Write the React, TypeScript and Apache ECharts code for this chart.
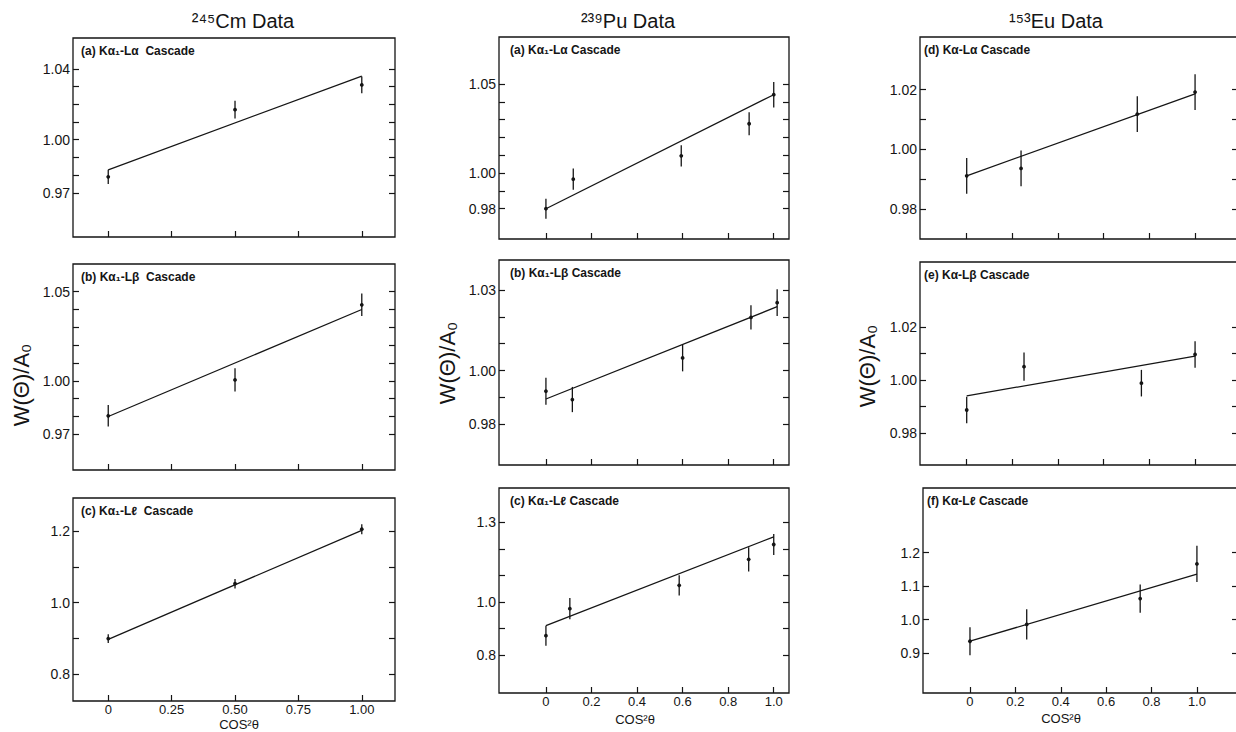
import React, { useEffect, useRef } from "react";
import * as echarts from "echarts";

// ---------- data ----------
const cmX = [0, 0.5, 1.0];
const cmAY = [0.979, 1.017, 1.031];
const cmAErr = [0.004, 0.005, 0.0047];
const cmAFit = [0.983, 1.036];
const cmBY = [0.9804, 1.0005, 1.0426];
const cmBErr = [0.006, 0.0065, 0.0063];
const cmBFit = [0.98, 1.04];
const cmCY = [0.9, 1.053, 1.205];
const cmCErr = [0.012, 0.013, 0.014];
const cmCFit = [0.898, 1.202];

const puAX = [0, 0.12, 0.594, 0.892, 1.0];
const puAY = [0.98, 0.9966, 1.0097, 1.0277, 1.044];
const puAErr = [0.0056, 0.006, 0.006, 0.0064, 0.0072];
const puAFit = [0.98, 1.044];
const puBX = [0, 0.116, 0.6, 0.9, 1.015];
const puBY = [0.9923, 0.9892, 1.0047, 1.0198, 1.0253];
const puBErr = [0.005, 0.0047, 0.005, 0.0045, 0.005];
const puBFit = [0.9894, 1.0238];
const puCX = [0, 0.105, 0.585, 0.89, 1.0];
const puCY = [0.873, 0.975, 1.063, 1.161, 1.217];
const puCErr = [0.038, 0.04, 0.038, 0.046, 0.04];
const puCFit = [0.911, 1.246];

const euAX = [0, 0.238, 0.747, 1.0];
const euAY = [0.9911, 0.9936, 1.0118, 1.0192];
const euAErr = [0.006, 0.006, 0.006, 0.006];
const euAFit = [0.9911, 1.0186];
const euBX = [0, 0.251, 0.765, 1.0];
const euBY = [0.9887, 1.005, 0.9988, 1.0096];
const euBErr = [0.005, 0.0053, 0.005, 0.005];
const euBFit = [0.994, 1.009];
const euCX = [0, 0.25, 0.75, 1.0];
const euCY = [0.936, 0.986, 1.063, 1.166];
const euCErr = [0.042, 0.045, 0.042, 0.054];
const euCFit = [0.936, 1.136];

const fitX01 = [0, 1.0];
const fitXPuB = [0, 1.015];

// ---------- tick values / labels ----------
const cmXTicks = [0, 0.25, 0.5, 0.75, 1.0];
const cmXTickLabels = ["0", "0.25", "0.50", "0.75", "1.00"];
const fineXTicks = [0, 0.2, 0.4, 0.6, 0.8, 1.0];
const fineXTickLabels = ["0", "0.2", "0.4", "0.6", "0.8", "1.0"];

const cmAYTicks = [0.97, 0.98, 0.99, 1.0, 1.01, 1.02, 1.03, 1.04];
const cmAYLabels = [0.97, 1.0, 1.04];
const cmBYTicks = [0.97, 0.98, 0.99, 1.0, 1.01, 1.02, 1.03, 1.04, 1.05];
const cmBYLabels = [0.97, 1.0, 1.05];
const cmCYTicks = [0.8, 0.9, 1.0, 1.1, 1.2];
const cmCYLabels = [0.8, 1.0, 1.2];
const puAYTicks = [0.98, 0.99, 1.0, 1.01, 1.02, 1.03, 1.04, 1.05];
const puAYLabels = [0.98, 1.0, 1.05];
const puBYTicks = [0.98, 0.99, 1.0, 1.01, 1.02, 1.03];
const puBYLabels = [0.98, 1.0, 1.03];
const puCYTicks = [0.8, 0.9, 1.0, 1.1, 1.2, 1.3];
const puCYLabels = [0.8, 1.0, 1.3];
const euAYTicks = [0.98, 0.99, 1.0, 1.01, 1.02];
const euAYLabels = [0.98, 1.0, 1.02];
const euBYTicks = [0.98, 0.99, 1.0, 1.01, 1.02];
const euBYLabels = [0.98, 1.0, 1.02];
const euCYTicks = [0.9, 1.0, 1.1, 1.2];
const euCYLabels = [0.9, 1.0, 1.1, 1.2];

const columnTitles = ["²⁴⁵Cm Data", "²³⁹Pu Data", "¹⁵³Eu Data"];
const panelLabels = [
  "(a) Kα₁-Lα  Cascade",
  "(b) Kα₁-Lβ  Cascade",
  "(c) Kα₁-Lℓ  Cascade",
  "(a) Kα₁-Lα Cascade",
  "(b) Kα₁-Lβ Cascade",
  "(c) Kα₁-Lℓ Cascade",
  "(d) Kα-Lα Cascade",
  "(e) Kα-Lβ Cascade",
  "(f) Kα-Lℓ Cascade",
];
const yName = "W(Θ)/A₀";
const xName = "COS²θ";

// ---------- panel assembly ----------
type Panel = {
  x: number[]; y: number[]; err: number[]; fitX: number[]; fit: number[];
  yTicks: number[]; yLabels: number[]; yDec: number;
  xTicks: number[]; xLabels: string[]; showX: boolean;
  box: { left: number; top: number; width: number; height: number };
  xRange: [number, number]; yRange: [number, number];
  labelDx: number;
};

const panels: Panel[] = [
  { x: cmX, y: cmAY, err: cmAErr, fitX: fitX01, fit: cmAFit, yTicks: cmAYTicks, yLabels: cmAYLabels, yDec: 2, xTicks: cmXTicks, xLabels: cmXTickLabels, showX: false,
    box: { left: 73, top: 38, width: 322, height: 199 }, xRange: [-0.139, 1.131], yRange: [0.945, 1.0575], labelDx: 8 },
  { x: cmX, y: cmBY, err: cmBErr, fitX: fitX01, fit: cmBFit, yTicks: cmBYTicks, yLabels: cmBYLabels, yDec: 2, xTicks: cmXTicks, xLabels: cmXTickLabels, showX: false,
    box: { left: 73, top: 264, width: 322, height: 206 }, xRange: [-0.139, 1.131], yRange: [0.95, 1.0655], labelDx: 8 },
  { x: cmX, y: cmCY, err: cmCErr, fitX: fitX01, fit: cmCFit, yTicks: cmCYTicks, yLabels: cmCYLabels, yDec: 1, xTicks: cmXTicks, xLabels: cmXTickLabels, showX: true,
    box: { left: 73, top: 498, width: 322, height: 203 }, xRange: [-0.139, 1.131], yRange: [0.726, 1.292], labelDx: 8 },
  { x: puAX, y: puAY, err: puAErr, fitX: fitX01, fit: puAFit, yTicks: puAYTicks, yLabels: puAYLabels, yDec: 2, xTicks: fineXTicks, xLabels: fineXTickLabels, showX: false,
    box: { left: 499, top: 37, width: 290, height: 202 }, xRange: [-0.206, 1.067], yRange: [0.963, 1.0764], labelDx: 11 },
  { x: puBX, y: puBY, err: puBErr, fitX: fitXPuB, fit: puBFit, yTicks: puBYTicks, yLabels: puBYLabels, yDec: 2, xTicks: fineXTicks, xLabels: fineXTickLabels, showX: false,
    box: { left: 499, top: 260, width: 290, height: 205 }, xRange: [-0.206, 1.067], yRange: [0.9648, 1.0412], labelDx: 11 },
  { x: puCX, y: puCY, err: puCErr, fitX: fitX01, fit: puCFit, yTicks: puCYTicks, yLabels: puCYLabels, yDec: 1, xTicks: fineXTicks, xLabels: fineXTickLabels, showX: true,
    box: { left: 499, top: 488, width: 290, height: 205 }, xRange: [-0.206, 1.067], yRange: [0.657, 1.43], labelDx: 11 },
  { x: euAX, y: euAY, err: euAErr, fitX: fitX01, fit: euAFit, yTicks: euAYTicks, yLabels: euAYLabels, yDec: 2, xTicks: fineXTicks, xLabels: fineXTickLabels, showX: false,
    box: { left: 920, top: 37, width: 318, height: 202 }, xRange: [-0.2045, 1.188], yRange: [0.9699, 1.0377], labelDx: 4 },
  { x: euBX, y: euBY, err: euBErr, fitX: fitX01, fit: euBFit, yTicks: euBYTicks, yLabels: euBYLabels, yDec: 2, xTicks: fineXTicks, xLabels: fineXTickLabels, showX: false,
    box: { left: 920, top: 262, width: 318, height: 203 }, xRange: [-0.2045, 1.188], yRange: [0.968, 1.0444], labelDx: 4 },
  { x: euCX, y: euCY, err: euCErr, fitX: fitX01, fit: euCFit, yTicks: euCYTicks, yLabels: euCYLabels, yDec: 1, xTicks: fineXTicks, xLabels: fineXTickLabels, showX: true,
    box: { left: 923, top: 488, width: 315, height: 205 }, xRange: [-0.207, 1.181], yRange: [0.782, 1.392], labelDx: 4 },
];

const INK = "#151515";
const FONT = "'Liberation Sans', 'DejaVu Sans', sans-serif";

function buildOption() {
  const grid: any[] = [];
  const xAxis: any[] = [];
  const yAxis: any[] = [];
  const series: any[] = [];
  const graphic: any[] = [];

  panels.forEach((p, i) => {
    grid.push({
      left: p.box.left, top: p.box.top, width: p.box.width, height: p.box.height,
      show: true, borderColor: INK, borderWidth: 1.3, backgroundColor: "transparent",
    });
    xAxis.push({
      type: "value", gridIndex: i, min: p.xRange[0], max: p.xRange[1], position: "bottom",
      axisLine: { show: false, onZero: false }, splitLine: { show: false },
      axisTick: { show: true, inside: true, length: 6, customValues: p.xTicks, lineStyle: { color: INK, width: 1.2 } },
      axisLabel: {
        show: p.showX, customValues: p.xTicks, margin: 2, color: INK, fontSize: 13, fontFamily: FONT,
        formatter: (v: number) => {
          const k = p.xTicks.findIndex((t) => Math.abs(t - v) < 1e-6);
          return k >= 0 ? p.xLabels[k] : "";
        },
      },
    });
    yAxis.push({
      type: "value", gridIndex: i, min: p.yRange[0], max: p.yRange[1], position: "left",
      axisLine: { show: false, onZero: false }, splitLine: { show: false },
      axisTick: { show: true, inside: true, length: 6, customValues: p.yTicks, lineStyle: { color: INK, width: 1.2 } },
      axisLabel: {
        show: true, customValues: p.yLabels, margin: 3, color: INK, fontSize: 14, fontFamily: FONT,
        formatter: (v: number) => v.toFixed(p.yDec),
      },
    });
    yAxis.push({
      type: "value", gridIndex: i, min: p.yRange[0], max: p.yRange[1], position: "right",
      axisLine: { show: false, onZero: false }, splitLine: { show: false },
      axisTick: { show: true, inside: true, length: 6, customValues: p.yTicks, lineStyle: { color: INK, width: 1.2 } },
      axisLabel: { show: false },
    });
    series.push({
      type: "line", xAxisIndex: i, yAxisIndex: 2 * i, symbol: "none", silent: true,
      lineStyle: { color: INK, width: 1.3 },
      data: p.fitX.map((fx, j) => [fx, p.fit[j]]),
    });
    series.push({
      type: "custom", xAxisIndex: i, yAxisIndex: 2 * i, silent: true, clip: false,
      data: p.x.map((xv, j) => [xv, p.y[j], p.err[j]]),
      renderItem: (params: any, api: any) => {
        const xv = api.value(0), yv = api.value(1), e = api.value(2);
        const top = api.coord([xv, yv + e]);
        const bot = api.coord([xv, yv - e]);
        const c = api.coord([xv, yv]);
        return {
          type: "group",
          children: [
            { type: "line", shape: { x1: top[0], y1: top[1], x2: bot[0], y2: bot[1] }, style: { stroke: INK, lineWidth: 1.3 } },
            { type: "circle", shape: { cx: c[0], cy: c[1], r: 1.9 }, style: { fill: INK } },
          ],
        };
      },
    });
    graphic.push({
      type: "text", left: p.box.left + p.labelDx, top: p.box.top + 7, silent: true,
      style: { text: panelLabels[i], fill: INK, font: `bold 12px ${FONT}` },
    });
  });

  // column titles
  const titleX = [243, 628, 1056];
  columnTitles.forEach((t, k) => {
    graphic.push({
      type: "text", x: titleX[k], y: 21, silent: true,
      style: { text: t, fill: INK, font: `20px ${FONT}`, align: "center", verticalAlign: "middle" },
    });
  });
  // y axis names
  const yNamePos = [[21, 385], [447, 363], [867, 366]];
  yNamePos.forEach(([x, y]) => {
    graphic.push({
      type: "text", x, y, rotation: Math.PI / 2, silent: true,
      style: { text: yName, fill: INK, font: `22px ${FONT}`, align: "center", verticalAlign: "middle" },
    });
  });
  // x axis names
  const xNamePos = [[239, 724], [635, 719], [1061, 718]];
  xNamePos.forEach(([x, y]) => {
    graphic.push({
      type: "text", x, y, silent: true,
      style: { text: xName, fill: INK, font: `13px ${FONT}`, align: "center", verticalAlign: "middle" },
    });
  });

  return { animation: false, backgroundColor: "#ffffff", grid, xAxis, yAxis, series, graphic };
}

export default function App() {
  const ref = useRef<HTMLDivElement>(null);
  useEffect(() => {
    if (!ref.current) return;
    const chart = echarts.init(ref.current, null, { renderer: "svg" });
    chart.setOption(buildOption());
    return () => chart.dispose();
  }, []);
  return (
    <div style={{ position: "absolute", left: 0, top: 0, width: 1236, height: 732, overflow: "hidden", background: "#fff" }}>
      <div ref={ref} style={{ width: 1242, height: 732 }} />
    </div>
  );
}
